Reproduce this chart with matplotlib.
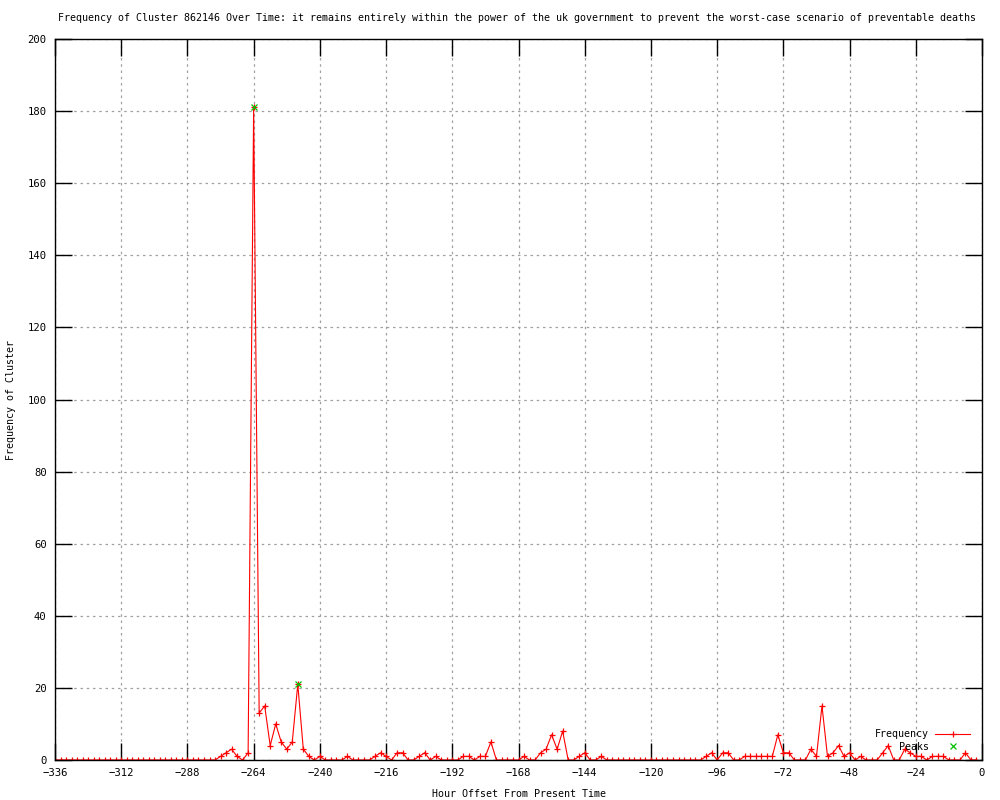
import numpy as np
import matplotlib
matplotlib.use('Agg')
import matplotlib.pyplot as plt

# hourly bins, two hours wide, from two weeks ago up to now
hours = np.arange(-336, 0, 2)
counts = (
    [0] * 30 +                                   # -336 .. -278
    [1, 2, 3, 1, 0, 2, 181, 13, 15, 4,           # -276 .. -258
     10, 5, 3, 5, 21, 3, 1, 0, 1, 0,             # -256 .. -238
     0, 0, 0, 1, 0, 0, 0, 0, 1, 2,               # -236 .. -218
     1, 0, 2, 2, 0, 0, 1, 2, 0, 1,               # -216 .. -198
     0, 0, 0, 0, 1, 1, 0, 1, 1, 5,               # -196 .. -178
     0, 0, 0, 0, 0, 1, 0, 0, 2, 3,               # -176 .. -158
     7, 3, 8, 0, 0, 1, 2, 0, 0, 1] +             # -156 .. -138
    [0] * 18 +                                   # -136 .. -102
    [1, 2, 0, 2, 2, 0, 0, 1, 1, 1,               # -100 .. -82
     1, 1, 1, 7, 2, 2, 0, 0, 0, 3,               # -80 .. -62
     1, 15, 1, 2, 4, 1, 2, 0, 1, 0,              # -60 .. -42
     0, 0, 2, 4, 0, 0, 3, 2, 1, 1,               # -40 .. -22
     0, 1, 1, 1, 0, 0, 0, 2, 0, 0]               # -20 .. -2
)

peak_hours = [-264, -248]
peak_counts = [181, 21]

x_ticks = list(range(-336, 1, 24))
y_ticks = list(range(0, 201, 20))

title = ('Frequency of Cluster 862146 Over Time: it remains entirely within the power '
         'of the uk government to prevent the worst-case scenario of preventable deaths')

plt.rcParams['font.family'] = ['DejaVu Sans Mono']
fs = 7.2

fig = plt.figure(figsize=(10, 8), dpi=100)
ax = fig.add_axes([0.055, 0.05, 0.927, 0.90125])

ax.plot(hours, counts, color='#ff0000', lw=0.8, marker='+', ms=5, mew=0.9,
        label='Frequency')
ax.plot(peak_hours, peak_counts, color='#00c000', lw=0, marker='x', ms=5, mew=0.9,
        label='Peaks')

ax.set_xlim(-336, 0)
ax.set_ylim(0, 200)
ax.set_xticks(x_ticks)
ax.set_yticks(y_ticks)
ax.tick_params(direction='in', length=12, width=1, top=True, right=True,
               labelsize=7.6, pad=6)
ax.grid(True, color='#a0a0a0', linestyle=(0, (2, 3)), lw=0.9)
for s in ax.spines.values():
    s.set_linewidth(1)

fig.text(0.517, 0.977, title, ha='center', va='center', fontsize=fs)
ax.set_xlabel('Hour Offset From Present Time', fontsize=fs, labelpad=8)
ax.set_ylabel('Frequency of Cluster', fontsize=fs, labelpad=8)

ax.legend(loc='lower right', bbox_to_anchor=(0.975, 0.054),
          bbox_transform=fig.transFigure, markerfirst=False, frameon=False,
          fontsize=fs, handlelength=3.5, labelspacing=0.25, handletextpad=0.6,
          borderpad=0)

fig.savefig('out.png', dpi=100)
